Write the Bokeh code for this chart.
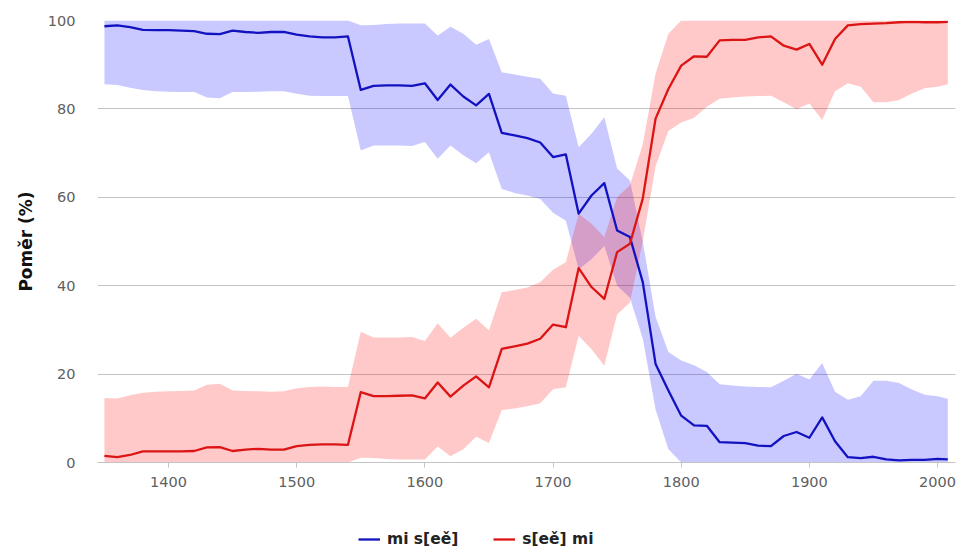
from bokeh.plotting import figure
from bokeh.layouts import column
from bokeh.models import Range1d, FixedTicker, Legend, LegendItem
from bokeh.embed import file_html
from bokeh.resources import INLINE

years = [1350, 1360, 1370, 1380, 1390, 1400, 1410, 1420, 1430, 1440,
         1450, 1460, 1470, 1480, 1490, 1500, 1510, 1520, 1530, 1540,
         1550, 1560, 1570, 1580, 1590, 1600, 1610, 1620, 1630, 1640,
         1650, 1660, 1670, 1680, 1690, 1700, 1710, 1720, 1730, 1740,
         1750, 1760, 1770, 1780, 1790, 1800, 1810, 1820, 1830, 1840,
         1850, 1860, 1870, 1880, 1890, 1900, 1910, 1920, 1930, 1940,
         1950, 1960, 1970, 1980, 1990, 2000, 2008]

mi_se = [98.7, 98.9, 98.5, 97.9, 97.8, 97.8, 97.7, 97.6, 97.0, 96.9,
         97.7, 97.4, 97.2, 97.4, 97.4, 96.8, 96.4, 96.2, 96.2, 96.4,
         84.3, 85.2, 85.3, 85.3, 85.2, 85.8, 82.0, 85.5, 82.8, 80.8,
         83.4, 74.6, 74.0, 73.4, 72.4, 69.1, 69.7, 56.3, 60.4, 63.2,
         52.5, 51.0, 40.8, 22.3, 16.3, 10.6, 8.4, 8.3, 4.6, 4.5,
         4.4, 3.8, 3.7, 6.0, 6.9, 5.6, 10.2, 4.8, 1.2, 1.0,
         1.3, 0.7, 0.5, 0.6, 0.6, 0.8, 0.7]

se_mi = [1.5, 1.2, 1.7, 2.5, 2.5, 2.5, 2.5, 2.6, 3.4, 3.5,
         2.6, 2.9, 3.1, 2.9, 2.9, 3.7, 4.0, 4.1, 4.1, 4.0,
         15.9, 15.0, 15.0, 15.1, 15.2, 14.5, 18.1, 14.9, 17.4, 19.5,
         17.0, 25.7, 26.3, 26.9, 28.0, 31.2, 30.6, 44.0, 39.7, 37.0,
         47.6, 49.5, 59.7, 77.8, 84.5, 89.8, 91.9, 91.8, 95.5, 95.6,
         95.6, 96.2, 96.4, 94.3, 93.4, 94.7, 90.0, 95.8, 98.9, 99.2,
         99.3, 99.4, 99.6, 99.7, 99.6, 99.6, 99.7]

mi_se_hi = [100, 100, 100, 100, 100, 100, 100, 100, 100, 100,
            100, 100, 100, 100, 100, 100, 100, 100, 100, 100,
            98.9, 99.0, 99.2, 99.3, 99.3, 99.3, 96.6, 98.6, 97.0, 94.5,
            95.8, 88.3, 87.8, 87.3, 86.8, 83.5, 83.0, 71.3, 74.4, 78.1,
            66.5, 63.8, 50.0, 33.0, 25.0, 23.1, 22.0, 20.5, 17.7, 17.4,
            17.2, 17.1, 17.0, 18.5, 20.1, 18.8, 22.5, 16.0, 14.2, 15.0,
            18.5, 18.5, 18.0, 16.5, 15.3, 15.0, 14.4]

mi_se_lo = [85.6, 85.4, 84.8, 84.3, 84.0, 83.9, 83.8, 83.8, 82.6, 82.4,
            83.8, 83.8, 83.9, 84.0, 84.0, 83.4, 83.0, 82.9, 82.9, 82.9,
            70.6, 71.7, 71.7, 71.7, 71.6, 72.5, 68.7, 71.7, 69.5, 67.7,
            70.2, 61.9, 61.0, 60.4, 59.6, 56.5, 54.7, 43.7, 46.0, 49.0,
            40.0, 37.3, 28.0, 12.0, 3.0, 0, 0, 0, 0, 0,
            0, 0, 0, 0, 0, 0, 0, 0, 0, 0,
            0, 0, 0, 0, 0, 0, 0]

se_mi_hi = [14.6, 14.5, 15.2, 15.8, 16.0, 16.1, 16.2, 16.3, 17.6, 17.8,
            16.3, 16.2, 16.1, 16.0, 16.1, 16.8, 17.1, 17.2, 17.1, 17.1,
            29.6, 28.3, 28.3, 28.3, 28.4, 27.5, 31.5, 28.2, 30.5, 32.5,
            29.9, 38.5, 39.0, 39.6, 40.8, 43.6, 45.3, 56.3, 54.0, 51.0,
            60.0, 62.7, 72.0, 88.0, 97.0, 100, 100, 100, 100, 100,
            100, 100, 100, 100, 100, 100, 100, 100, 100, 100,
            100, 100, 100, 100, 100, 100, 100]

se_mi_lo = [0, 0, 0, 0, 0, 0, 0, 0, 0, 0,
            0, 0, 0, 0, 0, 0, 0, 0, 0, 0,
            1.1, 1.0, 0.8, 0.7, 0.7, 0.7, 3.6, 1.4, 3.0, 5.8,
            4.4, 11.9, 12.2, 12.7, 13.4, 16.6, 17.0, 28.7, 25.6, 21.9,
            33.5, 36.2, 50.0, 67.0, 75.0, 76.9, 78.0, 80.5, 82.3, 82.6,
            82.8, 82.9, 83.0, 81.5, 79.9, 81.2, 77.5, 84.0, 85.8, 85.0,
            81.5, 81.5, 82.0, 83.5, 84.7, 85.0, 85.6]

x_ticks = [1400, 1500, 1600, 1700, 1800, 1900, 2000]
y_ticks = [0, 20, 40, 60, 80, 100]

BLUE = "#1212c0"
RED = "#dc1414"

p = figure(width=957, height=510, output_backend="svg", toolbar_location=None,
           x_range=Range1d(1344.6, 2014.0), y_range=Range1d(0, 100),
           min_border_left=97, min_border_right=2, min_border_top=20,
           min_border_bottom=48)
p.outline_line_color = None
p.background_fill_color = "white"

p.varea(x=years, y1=mi_se_lo, y2=mi_se_hi, fill_color="#0000ff", fill_alpha=0.21)
p.varea(x=years, y1=se_mi_lo, y2=se_mi_hi, fill_color="#ff0000", fill_alpha=0.21)
p.line(years, mi_se, line_color=BLUE, line_width=2.3, line_join="round")
p.line(years, se_mi, line_color=RED, line_width=2.3, line_join="round")

p.xgrid.grid_line_color = None
p.ygrid.grid_line_color = "#c4c4c4"
p.ygrid.ticker = FixedTicker(ticks=y_ticks)

p.xaxis.ticker = FixedTicker(ticks=x_ticks)
p.xaxis.axis_line_color = "#c4c4c4"
p.xaxis.major_tick_line_color = "#c4c4c4"
p.xaxis.major_tick_out = 5
p.xaxis.major_tick_in = 0
p.xaxis.minor_tick_line_color = None
p.xaxis.major_label_standoff = 9
p.xaxis.major_label_text_font = "DejaVu Sans"
p.xaxis.major_label_text_font_size = "14.5px"
p.xaxis.major_label_text_color = "#606060"

p.yaxis.ticker = FixedTicker(ticks=y_ticks)
p.yaxis.axis_line_color = None
p.yaxis.major_tick_line_color = None
p.yaxis.minor_tick_line_color = None
p.yaxis.major_tick_out = 0
p.yaxis.major_label_standoff = 22
p.yaxis.major_label_text_font = "DejaVu Sans"
p.yaxis.major_label_text_font_size = "14.5px"
p.yaxis.major_label_text_color = "#606060"
p.yaxis.axis_label = "Poměr (%)"
p.yaxis.axis_label_text_font = "DejaVu Sans"
p.yaxis.axis_label_text_font_style = "bold"
p.yaxis.axis_label_text_font_size = "17px"
p.yaxis.axis_label_text_color = "#111111"
p.yaxis.axis_label_standoff = 9

# legend strip under the chart
lg = figure(width=957, height=39, output_backend="svg", toolbar_location=None,
            x_range=Range1d(0, 1), y_range=Range1d(0, 1),
            x_axis_type=None, y_axis_type=None,
            min_border_left=0, min_border_right=0, min_border_top=0, min_border_bottom=0)
lg.outline_line_color = None
lg.xgrid.grid_line_color = None
lg.ygrid.grid_line_color = None
bl = lg.line(years, mi_se, line_color=BLUE, line_width=2.3)
rl = lg.line(years, se_mi, line_color=RED, line_width=2.3)

legend = Legend(items=[LegendItem(label="mi s[eě]", renderers=[bl]),
                       LegendItem(label="s[eě] mi", renderers=[rl])],
                orientation="horizontal", location=(261, 1),
                padding=0, margin=0, spacing=35, glyph_width=22, glyph_height=16,
                label_standoff=7, border_line_color=None, background_fill_alpha=0,
                label_text_font="DejaVu Sans", label_text_font_style="bold",
                label_text_font_size="15.5px", label_text_color="#222222")
lg.add_layout(legend, "center")

layout = column(p, lg, spacing=0)
open("out.html", "w").write(file_html(layout, INLINE))
